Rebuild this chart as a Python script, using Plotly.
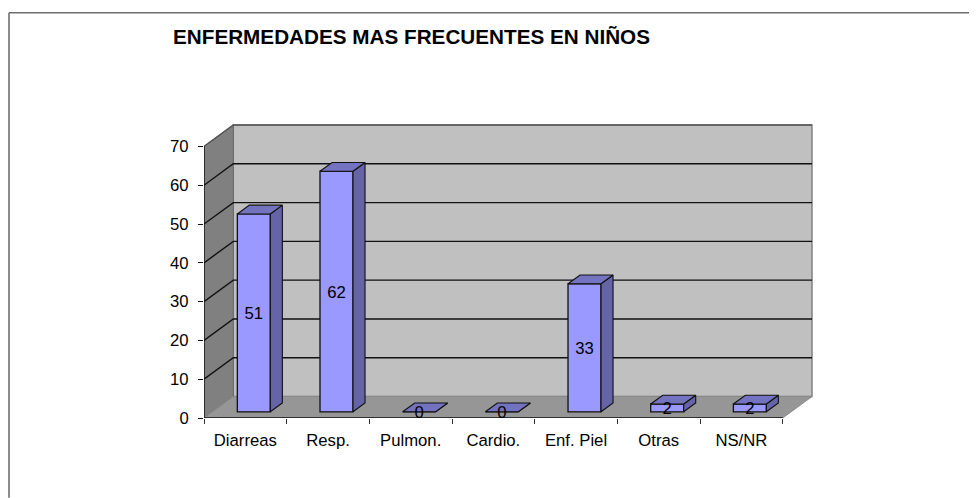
import plotly.graph_objects as go

# ---- data ----
categories = ["Diarreas", "Resp.", "Pulmon.", "Cardio.", "Enf. Piel", "Otras", "NS/NR"]
values = [51, 62, 0, 0, 33, 2, 2]
y_ticks = [0, 10, 20, 30, 40, 50, 60, 70]
title_text = "ENFERMEDADES MAS FRECUENTES EN NIÑOS"

# ---- page geometry (the page body adds an 8 px margin) ----
OFF = 8
W, H = 977 - OFF, 498 - OFF
L, R, T, B = 204 - OFF, 812 - OFF, 124.5 - OFF, 418 - OFF
FRONT_R = 782.7 - OFF
TOP_FRONT = 146 - OFF
PAD = 2                          # room so the wall outlines are not clipped
n = len(categories)
UX = (FRONT_R - L) / n           # pixels per category
UY = (B - TOP_FRONT) / 70        # pixels per value unit
DX = (R - FRONT_R) / UX          # depth shift in category units
DY = (B - T) / UY - 70           # depth shift in value units
BAR_W = 33 / UX
D0, D1 = 0.29, 0.70              # bar depth span
LABEL_DROP = 0.5                 # value labels sit slightly below bar centre


def proj(c, v, d=0.0):
    return c + d * DX, v + d * DY


def poly(points):
    xs = [p[0] for p in points] + [points[0][0]]
    ys = [p[1] for p in points] + [points[0][1]]
    return xs, ys


def path(points):
    return "M " + " L ".join(f"{x},{y}" for x, y in points) + " Z"


WALL, SIDE_WALL, FLOOR = "#C0C0C0", "#808080", "#969696"
FRONT, TOP_F, SIDE_F = "#9999FF", "#7373C0", "#6464A6"
INK = "#111111"
FONT = "Liberation Sans, Arial, sans-serif"
SIZE = 16.7

shapes = []
# back wall
shapes.append(dict(type="path", xref="x", yref="y", layer="below", fillcolor=WALL,
                   line=dict(color="#7a7a7a", width=1.4),
                   path=path([proj(0, 0, 1), proj(n, 0, 1), proj(n, 70, 1), proj(0, 70, 1)])))
# left wall
shapes.append(dict(type="path", xref="x", yref="y", layer="below", fillcolor=SIDE_WALL,
                   line=dict(color="#6a6a6a", width=1),
                   path=path([proj(0, 0), proj(0, 0, 1), proj(0, 70, 1), proj(0, 70)])))
# floor
shapes.append(dict(type="path", xref="x", yref="y", layer="below", fillcolor=FLOOR,
                   line=dict(color="#8a8a8a", width=1),
                   path=path([proj(0, 0), proj(n, 0), proj(n, 0, 1), proj(0, 0, 1)])))
# grid lines
for t in y_ticks:
    if t == 0:
        continue
    a, b, c = proj(0, t), proj(0, t, 1), proj(n, t, 1)
    col = "#555555" if t == 70 else INK
    shapes.append(dict(type="path", xref="x", yref="y", layer="below",
                       line=dict(color=col, width=1.4), path=f"M {a[0]},{a[1]} L {b[0]},{b[1]} L {c[0]},{c[1]}"))
# frame (open to the right and bottom of the page)
px = lambda p: (p - L) / (R + PAD - L)
py = lambda p: (B - p) / (B - T + PAD)
FX, FY = 9 - OFF, 12 - OFF
shapes.append(dict(type="line", xref="paper", yref="paper", x0=px(FX), x1=px(FX), y0=py(FY), y1=py(H),
                   line=dict(color="#6e6e6e", width=1.6)))
shapes.append(dict(type="line", xref="paper", yref="paper", x0=px(FX), x1=px(W), y0=py(FY), y1=py(FY),
                   line=dict(color="#6e6e6e", width=1.6)))

centers = [i + 0.5 for i in range(n)]
bar_x = [c + D0 * DX for c in centers]
bar_base = [D0 * DY] * n

fig = go.Figure()
fig.add_trace(go.Bar(x=bar_x, y=values, base=bar_base, width=BAR_W, xaxis="x", yaxis="y",
                     marker=dict(color=FRONT, line=dict(color=INK, width=1.3)), hoverinfo="skip"))

for c, v in zip(centers, values):
    x0, x1 = c - BAR_W / 2, c + BAR_W / 2
    xs, ys = poly([proj(x1, 0, D0), proj(x1, 0, D1), proj(x1, v, D1), proj(x1, v, D0)])
    fig.add_trace(go.Scatter(x=xs, y=ys, mode="lines", fill="toself", fillcolor=SIDE_F,
                             line=dict(color=INK, width=1.1), hoverinfo="skip"))
    xs, ys = poly([proj(x0, v, D0), proj(x1, v, D0), proj(x1, v, D1), proj(x0, v, D1)])
    fig.add_trace(go.Scatter(x=xs, y=ys, mode="lines", fill="toself", fillcolor=TOP_F,
                             line=dict(color=INK, width=1.1), hoverinfo="skip"))

# axis lines
fig.add_trace(go.Scatter(x=[0, 0, n], y=[70, 0, 0], mode="lines",
                         line=dict(color=INK, width=1.4), hoverinfo="skip"))
# value labels
fig.add_trace(go.Scatter(x=bar_x, y=[b + v / 2 - LABEL_DROP for b, v in zip(bar_base, values)], mode="text",
                         text=[str(v) for v in values], textposition="middle center",
                         textfont=dict(family=FONT, size=SIZE, color="#000000"), hoverinfo="skip"))
# carries the tick marks at category boundaries
fig.add_trace(go.Scatter(x=[0], y=[0], xaxis="x2", mode="none", hoverinfo="skip"))

x_range = [0, n + DX + PAD / UX]
y_range = [0, 70 + DY + PAD / UY]
fig.update_layout(
    width=W, height=H, autosize=False,
    margin=dict(l=L, r=W - R - PAD, t=T - PAD, b=H - B, pad=0),
    paper_bgcolor="white", plot_bgcolor="rgba(0,0,0,0)",
    showlegend=False, barmode="overlay", shapes=shapes,
    font=dict(family=FONT, size=SIZE, color="#000000"),
    xaxis=dict(range=x_range, tickmode="array", tickvals=centers, ticktext=categories,
               ticks="", ticklabelstandoff=10, showgrid=False, zeroline=False, showline=False,
               tickangle=0, tickfont=dict(family=FONT, size=SIZE)),
    xaxis2=dict(range=x_range, overlaying="x", side="bottom", anchor="y",
                tickmode="array", tickvals=list(range(n + 1)), ticktext=[""] * (n + 1),
                ticks="outside", ticklen=5, tickwidth=1, tickcolor="#333333",
                showgrid=False, zeroline=False, showline=False),
    yaxis=dict(range=y_range, tickmode="array", tickvals=y_ticks,
               ticktext=[str(t) for t in y_ticks], ticks="outside", ticklen=5, tickwidth=1.2,
               tickcolor=INK, showgrid=False, zeroline=False, showline=False, ticklabelstandoff=6,
               tickfont=dict(family=FONT, size=SIZE)),
    annotations=[dict(text=f"<b>{title_text}</b>", xref="paper", yref="paper", x=px(171 - OFF), y=py(36 - OFF),
                      xanchor="left", yanchor="middle", showarrow=False,
                      font=dict(family=FONT, size=20.7, color="#000000"))],
)

fig.write_html("out.html")
